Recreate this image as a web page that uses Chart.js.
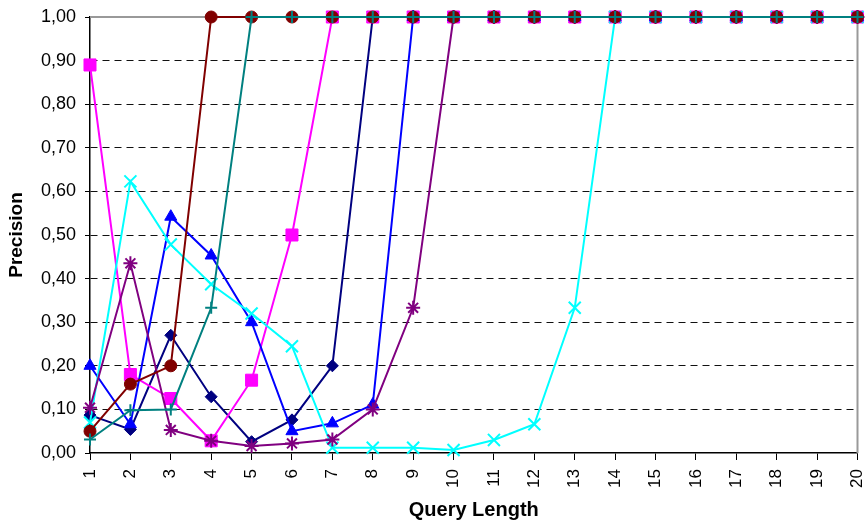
<!DOCTYPE html>
<html>
<head>
<meta charset="utf-8">
<title>Precision by query length</title>
<script src="https://cdn.jsdelivr.net/npm/chart.js@4/dist/chart.umd.min.js"></script>
<style>
  html, body { margin: 0; padding: 0; background: #fff; }
  #wrap { width: 868px; height: 527px; }
</style>
</head>
<body>
<div id="wrap"><canvas id="chart" width="868" height="527"></canvas></div>
<script>
// query lengths on the x axis
const queryLengths = ['1', '2', '3', '4', '5', '6', '7', '8', '9', '10',
                      '11', '12', '13', '14', '15', '16', '17', '18', '19', '20'];

// precision per query length, one array per line
const diamondLine  = [0.087, 0.054, 0.27, 0.129, 0.026, 0.076, 0.2, 1, 1, 1, 1, 1, 1, 1, 1, 1, 1, 1, 1, 1];
const squareLine   = [0.89, 0.18, 0.125, 0.028, 0.167, 0.5, 1, 1, 1, 1, 1, 1, 1, 1, 1, 1, 1, 1, 1, 1];
const triangleLine = [0.2, 0.066, 0.542, 0.453, 0.3, 0.05, 0.068, 0.111, 1, 1, 1, 1, 1, 1, 1, 1, 1, 1, 1, 1];
const crossLine    = [0.07, 0.623, 0.478, 0.387, 0.32, 0.245, 0.012, 0.012, 0.012, 0.007, 0.03, 0.066, 0.333, 1, 1, 1, 1, 1, 1, 1];
const starLine     = [0.104, 0.435, 0.053, 0.028, 0.016, 0.022, 0.031, 0.1, 0.333, 1, 1, 1, 1, 1, 1, 1, 1, 1, 1, 1];
const circleLine   = [0.05, 0.158, 0.2, 1, 1, 1, 1, 1, 1, 1, 1, 1, 1, 1, 1, 1, 1, 1, 1, 1];
const plusLine     = [0.031, 0.098, 0.1, 0.333, 1, 1, 1, 1, 1, 1, 1, 1, 1, 1, 1, 1, 1, 1, 1, 1];

const yTicks = { min: 0, max: 1, step: 0.1 };

const FONT = '"Liberation Sans", Arial, sans-serif';

// data, colour, marker, marker radius, marker outline width
const lines = [
    [diamondLine,  '#000080', 'rectRot',  6,   1],
    [squareLine,   '#ff00ff', 'rect',     8.5, 1],
    [triangleLine, '#0000ff', 'triangle', 7,   1],
    [crossLine,    '#00ffff', 'crossRot', 8.5, 2],
    [starLine,     '#800080', 'star',     7,   2],
    [circleLine,   '#800000', 'circle',   6,   1],
    [plusLine,     '#008080', 'cross',    6,   2]
];

// later lines sit on top of earlier ones
const datasets = lines.map(([data, color, style, radius, outline], i) => ({
    data: data,
    borderColor: color,
    backgroundColor: color,
    borderWidth: 2,
    pointStyle: style,
    pointRadius: radius,
    pointBackgroundColor: color,
    pointBorderColor: color,
    pointBorderWidth: outline,
    clip: false,
    order: lines.length - i
}));

// grey frame along the top and right of the plot
const plotFrame = {
    id: 'plotFrame',
    beforeDatasetsDraw(chart) {
        const { ctx, chartArea } = chart;
        ctx.save();
        ctx.strokeStyle = '#999';
        ctx.lineWidth = 2;
        ctx.beginPath();
        ctx.moveTo(chartArea.left, chartArea.top);
        ctx.lineTo(chartArea.right, chartArea.top);
        ctx.lineTo(chartArea.right, chartArea.bottom);
        ctx.stroke();
        ctx.restore();
    }
};

new Chart(document.getElementById('chart'), {
    type: 'line',
    data: { labels: queryLengths, datasets: datasets },
    plugins: [plotFrame],
    options: {
        responsive: false,
        animation: false,
        layout: { padding: { top: 17, right: 7, left: 0, bottom: 0 } },
        plugins: {
            legend: { display: false },
            tooltip: { enabled: false }
        },
        scales: {
            x: {
                type: 'category',
                offset: false,
                afterFit(scale) {
                    scale.height = 74;
                    scale.paddingLeft = 0;
                    scale.paddingRight = 0;
                },
                grid: {
                    drawOnChartArea: false,
                    drawTicks: true,
                    tickLength: 7,
                    tickColor: '#000'
                },
                border: { color: '#000', width: 1.5 },
                ticks: {
                    minRotation: 90,
                    maxRotation: 90,
                    autoSkip: false,
                    padding: 9,
                    color: '#000',
                    font: { family: FONT, size: 17 }
                },
                title: {
                    display: true,
                    text: 'Query Length',
                    color: '#000',
                    padding: { top: 0, bottom: 5 },
                    font: { family: FONT, size: 20, weight: 'bold' }
                }
            },
            y: {
                min: yTicks.min,
                max: yTicks.max,
                afterFit(scale) {
                    scale.width = 90;
                    scale.paddingTop = 0;
                    scale.paddingBottom = 0;
                },
                grid: {
                    color: c => (c.tick && (c.tick.value <= 0 || c.tick.value >= 1)) ? 'rgba(0,0,0,0)' : '#111',
                    lineWidth: 1,
                    drawTicks: true,
                    tickLength: 5,
                    tickColor: '#000'
                },
                border: { color: '#000', width: 1.5, dash: [7, 5] },
                ticks: {
                    stepSize: yTicks.step,
                    padding: 9,
                    color: '#000',
                    font: { family: FONT, size: 18 },
                    callback: v => v.toFixed(2).replace('.', ',')
                },
                title: {
                    display: true,
                    text: 'Precision',
                    color: '#000',
                    padding: { top: 5, bottom: 0 },
                    font: { family: FONT, size: 19, weight: 'bold' }
                }
            }
        }
    }
});
</script>
</body>
</html>
